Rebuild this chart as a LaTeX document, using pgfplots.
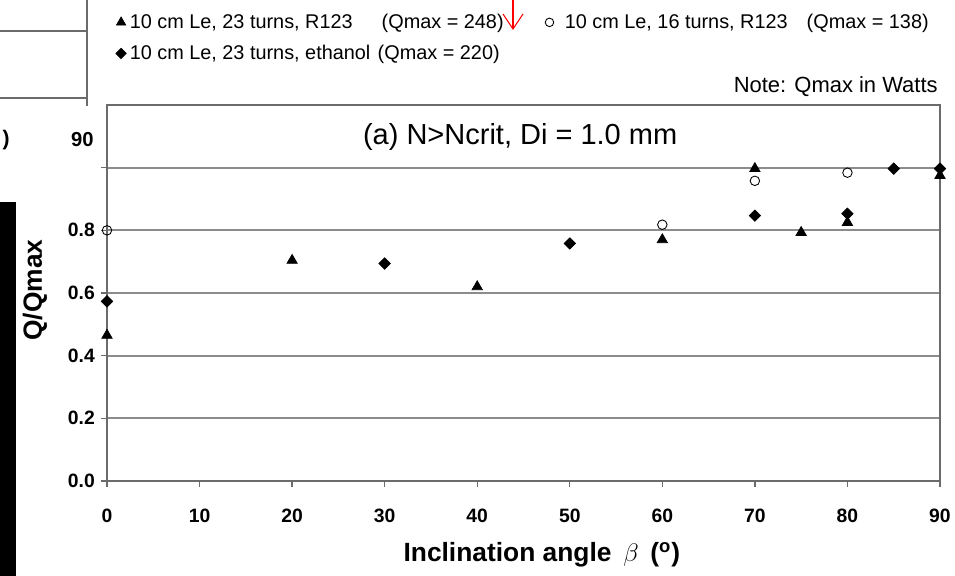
\documentclass[border=0pt]{standalone}
\usepackage{pgfplots}
\pgfplotsset{compat=1.18}
\usepackage{fontspec}
\setmainfont{Liberation Sans}
\usetikzlibrary{arrows.meta}
\definecolor{gridgray}{gray}{0.55}
\definecolor{axgray}{gray}{0.42}
\begin{document}
\begin{tikzpicture}
\path[use as bounding box] (0,0) rectangle (19.1cm,11.52cm);
\begin{axis}[
  at={(2.14cm,1.9cm)}, anchor=south west,
  scale only axis, width=16.66cm, height=7.52cm,
  xmin=0, xmax=90, ymin=0, ymax=1.2,
  xtick={0,10,...,90},
  xticklabels={0,10,20,30,40,50,60,70,80,90},
  ytick={0,0.2,0.4,0.6,0.8,1.0},
  yticklabels={0.0,0.2,0.4,0.6,0.8,{}},
  tick pos=left, tick align=outside,
  major tick length=0.12cm,
  tick style={axgray, line width=0.8pt},
  ymajorgrids,
  grid style={gridgray, line width=1.1pt},
  axis line style={axgray, line width=1pt},
  tick label style={font=\fontsize{11}{13}\selectfont\bfseries},
  xticklabel style={yshift=-0.32cm},
  xlabel={Inclination angle \,$\beta$\, (\textsuperscript{o})},
  xlabel style={font=\fontsize{15}{17}\selectfont\bfseries, at={(axis description cs:0.522,-0.197)}, anchor=center},
  ylabel={Q/Qmax},
  ylabel style={font=\fontsize{15}{17}\selectfont\bfseries, at={(axis description cs:-0.0864,0.508)}, anchor=center},
  legend columns=2,
  legend cell align=left,
  legend image code/.code={\draw[#1, every mark/.append style={scale=0.9}] plot coordinates {(0.1cm,0cm)};},
  legend style={draw=none, fill=none, at={(axis description cs:0.004,1.262)}, anchor=north west,
    font=\fontsize{11.3}{13.5}\selectfont, row sep=4pt,
    /tikz/every even column/.append style={column sep=0.76cm}},
]
\addplot[only marks, mark=triangle*, mark size=3.4pt, black] coordinates {
 (0,0.465) (20,0.704) (40,0.62) (60,0.77) (70,0.997) (75,0.793) (80,0.825) (90,0.975)};
\addlegendentry{\makebox[5.04cm][l]{10 cm Le, 23 turns, R123}(Qmax = 248)}
\addplot[only marks, mark=o, mark size=2.7pt, black, mark options={line width=0.5pt}] coordinates {
 (0,0.80) (60,0.818) (70,0.958) (80,0.984)};
\addlegendentry{\hspace{0.15cm}\makebox[4.84cm][l]{10 cm Le, 16 turns, R123}(Qmax = 138)}
\addplot[only marks, mark=square*, mark size=2.3pt, black, mark options={rotate=45}] coordinates {
 (0,0.573) (30,0.694) (50,0.758) (70,0.847) (80,0.853) (85,0.997) (90,0.997)};
\addlegendentry{\makebox[4.96cm][l]{10 cm Le, 23 turns, ethanol}(Qmax = 220)}
\node[font=\fontsize{16.5}{19}\selectfont] at (axis description cs:0.496,0.915) {(a) N>Ncrit, Di = 1.0 mm};
\end{axis}
% text outside the plot box
\node[font=\fontsize{12.5}{15}\selectfont, anchor=east, inner sep=0pt] at (18.76cm,9.78cm) {Note: Qmax in Watts};
\node[font=\fontsize{11.5}{13}\selectfont\bfseries, anchor=east, inner sep=0pt] at (1.88cm,8.72cm) {90};
% scan artefacts around the panel
\fill[black] (0,0) rectangle (0.32cm,7.48cm);
\draw[axgray, line width=1pt] (0,10.9cm) -- (1.74cm,10.9cm);
\draw[axgray, line width=1pt] (0,9.56cm) -- (1.74cm,9.56cm);
\draw[axgray, line width=1pt] (1.74cm,11.6cm) -- (1.74cm,9.4cm);
\node[font=\fontsize{12}{14}\selectfont\bfseries, anchor=east, inner sep=0pt] at (0.2cm,8.72cm) {)};
\draw[red, line width=0.6pt, -{Straight Barb[length=0.3cm, width=0.4cm]}] (10.26cm,11.7cm) -- (10.26cm,10.92cm);
\end{tikzpicture}
\end{document}
